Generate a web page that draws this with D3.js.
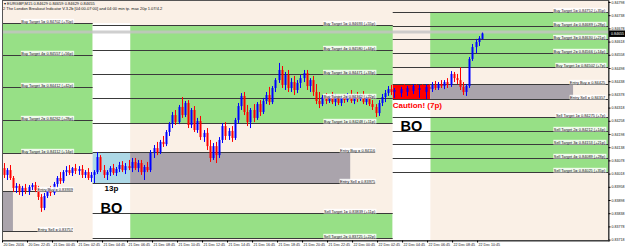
<!DOCTYPE html>
<html>
<head>
<meta charset="utf-8">
<script src="https://cdn.jsdelivr.net/npm/d3@7"></script>
<style>
  body { margin: 0; background: #fff; }
  svg { display: block; }
  text { font-family: "Liberation Sans", Arial, sans-serif; }
</style>
</head>
<body>
<svg id="chart" width="625" height="249"></svg>
<script>
// EURGBP M15, first bar = 20 Dec 20:45, values in points (1e-5)
// [open, high, low, close]
const candles = [
  [84043,84066,83998,84012],[84012,84043,83989,84034],[84034,84057,83989,83998],[83998,84007,83934,83953],
  [83953,83975,83930,83962],[83962,83971,83921,83934],[83934,83962,83916,83953],[83953,83971,83925,83939],
  [83939,83966,83921,83957],[83957,83975,83943,83966],[83966,83980,83934,83943],[83943,83962,83898,83912],
  [83912,83925,83844,83862],[83862,83930,83852,83916],[83916,83953,83907,83943],[83943,83962,83916,83930],
  [83930,83980,83921,83971],[83971,84007,83953,83998],[83998,84025,83971,83984],[83984,84034,83975,84025],
  [84025,84052,84007,84034],[84034,84057,84012,84021],[84021,84048,84007,84043],[84043,84062,84016,84030],
  [84030,84052,84012,84039],[84039,84057,83998,84012],[84012,84034,83998,84025],[84025,84043,83989,83998],
  [83998,84025,83980,84012],
  // 21 Dec 04:00 range
  [84012,84034,83975,84025],[84025,84116,84016,84093],[84093,84102,84025,84034],[84034,84057,83998,84012],
  [84012,84034,83989,84025],[84025,84052,84007,84043],[84043,84062,84012,84021],[84021,84048,84007,84039],
  [84039,84071,84025,84057],[84057,84075,84025,84034],[84034,84066,84016,84052],[84052,84080,84034,84043],
  // 07:00
  [84043,84089,84025,84071],[84071,84089,84034,84043],[84043,84080,84025,84066],[84066,84080,84012,84025],
  [84025,84057,83989,84048],[84048,84071,84025,84034],[84034,84125,84025,84112],[84112,84148,84089,84134],
  [84134,84162,84102,84116],[84116,84171,84107,84162],[84162,84189,84139,84152],[84152,84216,84143,84207],
  [84207,84252,84189,84243],[84243,84298,84225,84284],[84284,84307,84239,84252],[84252,84330,84243,84321],
  [84321,84366,84271,84284],[84284,84348,84275,84339],[84339,84352,84225,84239],[84239,84316,84225,84307],
  [84307,84325,84207,84216],[84216,84271,84203,84257],[84257,84280,84171,84184],[84184,84216,84162,84203],
  [84203,84225,84125,84143],[84143,84171,84071,84089],[84089,84157,84080,84143],[84143,84162,84066,84102],
  [84102,84184,84089,84171],[84171,84248,84157,84234],[84234,84252,84171,84189],[84189,84225,84171,84212],
  [84212,84234,84162,84180],[84180,84271,84171,84262],[84262,84339,84248,84325],[84325,84384,84307,84371],
  [84371,84389,84284,84298],[84298,84330,84234,84252],[84252,84316,84225,84307],[84307,84334,84252,84271],
  [84271,84343,84262,84334],[84334,84352,84280,84298],[84298,84362,84289,84348],[84348,84389,84334,84375],
  [84375,84412,84330,84343],[84343,84416,84334,84407],[84407,84452,84389,84443],[84443,84521,84430,84489],
  [84489,84507,84407,84421],[84421,84480,84398,84466],[84466,84489,84389,84407],[84407,84452,84389,84434],
  [84434,84462,84375,84398],[84398,84443,84384,84430],[84430,84466,84407,84452],[84452,84489,84434,84475],
  [84475,84489,84398,84416],[84416,84452,84389,84443],[84443,84462,84371,84389],[84389,84425,84334,84348],
  [84348,84389,84316,84334],[84334,84375,84325,84366],[84366,84384,84334,84348],[84348,84375,84339,84371],
  [84371,84389,84334,84343],[84343,84380,84325,84362],[84362,84375,84330,84339],[84339,84371,84325,84362],
  [84362,84380,84339,84352],[84352,84384,84343,84375],[84375,84398,84339,84348],[84348,84380,84334,84366],
  [84366,84389,84343,84357],[84357,84380,84348,84371],[84371,84393,84334,84343],[84343,84375,84330,84362],
  [84362,84380,84325,84334],[84334,84352,84307,84321],[84321,84334,84275,84293],[84293,84352,84280,84339],
  [84339,84380,84325,84366],[84366,84398,84343,84384],[84384,84416,84371,84402],[84402,84421,84375,84389],
  // 22 Dec 04:00 range
  [84389,84407,84362,84398],[84398,84416,84375,84384],[84384,84412,84366,84402],[84402,84425,84380,84389],
  [84389,84416,84371,84407],[84407,84421,84384,84393],[84393,84425,84380,84416],[84416,84425,84389,84398],
  [84398,84421,84362,84407],[84407,84425,84375,84389],[84389,84425,84357,84412],[84412,84425,84389,84402],
  // 07:00
  [84402,84434,84389,84421],[84421,84439,84398,84407],[84407,84434,84398,84425],[84425,84443,84407,84416],
  [84416,84443,84402,84434],[84434,84452,84407,84421],[84421,84484,84412,84471],[84471,84480,84434,84452],
  [84452,84471,84425,84443],[84443,84502,84398,84412],[84412,84434,84375,84389],[84389,84425,84371,84416],
  [84416,84548,84407,84539],[84539,84607,84530,84593],[84593,84630,84566,84616],[84616,84643,84598,84634],
  [84629,84659,84629,84655]
];

const timeLabels = ["20 Dec 2016","20 Dec 22:45","21 Dec 00:45","21 Dec 02:45","21 Dec 04:45",
  "21 Dec 06:45","21 Dec 08:45","21 Dec 10:45","21 Dec 12:45","21 Dec 14:45","21 Dec 16:45",
  "21 Dec 18:45","21 Dec 20:45","21 Dec 22:45","22 Dec 00:45","22 Dec 02:45","22 Dec 04:45",
  "22 Dec 06:45","22 Dec 08:45","22 Dec 10:45"];

const priceTicks = [0.84798,0.84738,0.84678,0.84618,0.84558,0.84498,0.84438,0.84378,0.84318,
  0.84258,0.84198,0.84138,0.84078,0.84018,0.83958,0.83898,0.83838,0.83778,0.83718];

// indicator levels per day (20 Dec, 21 Dec, 22 Dec), points; targets T1..T5
const buyTargets = [[84112,84262,84412,84557,84702],[84248,84362,84471,84580,84693],[84502,84566,84630,84689,84752]];
const buyPips = [[14,28,42,56,70],[11,22,33,44,55],[7,14,21,28,35]];
const sellTargets = [[],[83839,83725],[84275,84212,84153,84089,84025]];
const sellPips = [[],[11,22],[7,14,21,28,35]];
const entryBuy = [83939,84116,84425];
const entrySell = [83757,83975,84357];
const rangePips = [null,13,7];

// times as bar index
const rangeStart = [-67,29,125];
const rangeEnd = [-55,41,137];
const entryBoxEnd = [3.5,111.4,182.7];
const levelEnd = [29,125,195];
const labelAt = [22.7,119.4,193];

const lastBar = candles[candles.length - 1];

const plot = { left: 2, right: 609, top: 0, bottom: 241 };
const svg = d3.select("#chart");
const pt = v => v / 1e5;

const x = d3.scaleLinear().domain([0, 194.2]).range([plot.left, plot.right]);
const y = d3.scaleLinear().domain([0.837117, 0.84807]).range([plot.bottom, plot.top]);
const barW = x(1) - x(0);

const LINEN = "#faf0e6", GREEN = "#97e086", GREY = "#aaa4ac", LBLUE = "#add8e6";

svg.append("defs").append("clipPath").attr("id", "clip")
  .append("rect")
  .attr("x", plot.left).attr("y", plot.top)
  .attr("width", plot.right - plot.left).attr("height", plot.bottom - plot.top);

const g = svg.append("g").attr("clip-path", "url(#clip)");

g.append("rect")
  .attr("x", plot.left).attr("y", plot.top)
  .attr("width", plot.right - plot.left).attr("height", plot.bottom - plot.top)
  .attr("fill", LINEN);

// p0/p1: prices (< 1) or pixel rows
function box(x0, x1, p0, p1, fill) {
  const ya = p0 < 1 ? y(p0) : p0;
  const yb = p1 < 1 ? y(p1) : p1;
  g.append("rect")
    .attr("x", x(x0)).attr("width", Math.max(0, x(x1) - x(x0)))
    .attr("y", Math.min(ya, yb)).attr("height", Math.abs(yb - ya))
    .attr("fill", fill);
}

const days = d3.range(3);

// zones
days.forEach(d => {
  const bt = buyTargets[d], st = sellTargets[d];
  box(rangeEnd[d], levelEnd[d], pt(bt[0]), pt(bt[bt.length - 1]), GREEN);
  if (st.length) box(rangeEnd[d], levelEnd[d], pt(st[0]), pt(st[st.length - 1]), GREEN);
  if (d > 0) {
    // white column above the range reaches up to the previous day's top target on 21 Dec
    const whiteTop = d === 1 ? pt(buyTargets[0][4]) : 0.0001;
    box(rangeStart[d], rangeEnd[d], whiteTop < 0.5 ? plot.top : whiteTop, pt(entryBuy[d]), "#ffffff");
    box(rangeStart[d], rangeEnd[d], pt(entrySell[d]), plot.bottom, "#ffffff");
    box(rangeStart[d], rangeEnd[d], pt(entryBuy[d]), pt(entrySell[d]), d === 2 ? "#ff0000" : LBLUE);
  }
  box(rangeEnd[d], entryBoxEnd[d], pt(entryBuy[d]), pt(entrySell[d]), GREY);
});

// bid line
g.append("line")
  .attr("x1", plot.left).attr("x2", plot.right)
  .attr("y1", y(pt(lastBar[3])) - 1.5).attr("y2", y(pt(lastBar[3])) - 1.5)
  .attr("stroke", "#c4c4c4").attr("stroke-width", 3).attr("opacity", 0.8);

// level lines
days.forEach(d => {
  const levels = [...buyTargets[d], ...sellTargets[d]];
  levels.forEach(v => {
    g.append("line")
      .attr("x1", x(rangeStart[d])).attr("x2", x(levelEnd[d]))
      .attr("y1", Math.round(y(pt(v))) + 0.5).attr("y2", Math.round(y(pt(v))) + 0.5)
      .attr("stroke", "#3a3a3a").attr("stroke-width", 1);
  });
  [entryBuy[d], entrySell[d]].forEach(v => {
    g.append("line")
      .attr("x1", x(rangeStart[d])).attr("x2", x(d === 2 ? levelEnd[d] : labelAt[d]))
      .attr("y1", Math.round(y(pt(v))) + 0.5).attr("y2", Math.round(y(pt(v))) + 0.5)
      .attr("stroke", "#3a3a3a").attr("stroke-width", 1);
  });
});

// candles
const cg = g.append("g");
candles.forEach((c, i) => {
  const [o, h, l, cl] = c.map(pt);
  const col = cl >= o ? "#0000ff" : "#ff0000";
  const cx = Math.round(x(i) + barW / 2) + 0.5;
  cg.append("line")
    .attr("x1", cx).attr("x2", cx)
    .attr("y1", y(h)).attr("y2", y(l))
    .attr("stroke", col).attr("stroke-width", 1);
  const top = y(Math.max(o, cl)), bot = y(Math.min(o, cl));
  cg.append("rect")
    .attr("x", cx - 1).attr("width", 2)
    .attr("y", top).attr("height", Math.max(1, bot - top))
    .attr("fill", col);
});

// level labels
function levelLabel(d, v, txt) {
  const t = g.append("text")
    .attr("x", x(labelAt[d])).attr("y", Math.round(y(pt(v))) - 0.5)
    .attr("text-anchor", "end")
    .attr("font-size", 3.9).attr("fill", "#111")
    .text(txt);
  const b = t.node().getBBox();
  g.insert("rect", () => t.node())
    .attr("x", b.x - 0.5).attr("y", b.y + 0.3)
    .attr("width", b.width + 1).attr("height", b.height - 0.3)
    .attr("fill", "#ffffff").attr("opacity", 0.85);
}
const f5 = d3.format(".5f");
days.forEach(d => {
  buyTargets[d].forEach((v, k) =>
    levelLabel(d, v, `Buy Target ${k + 1}= ${f5(pt(v))} (+${buyPips[d][k]}p)`));
  levelLabel(d, entryBuy[d], `Entry Buy = ${f5(pt(entryBuy[d]))}`);
  levelLabel(d, entrySell[d], `Entry Sell = ${f5(pt(entrySell[d]))}`);
  sellTargets[d].forEach((v, k) =>
    levelLabel(d, v, `Sell Target ${k + 1}= ${f5(pt(v))} (+${sellPips[d][k]}p)`));
});

// breakout annotations
const mid1 = x((rangeStart[1] + rangeEnd[1]) / 2);
g.append("text").attr("x", mid1).attr("y", y(pt(entrySell[1])) + 7.5)
  .attr("text-anchor", "middle").attr("font-size", 8).attr("font-weight", "bold")
  .text(`${rangePips[1]}p`);
g.append("text").attr("x", mid1).attr("y", y(pt(entrySell[1])) + 30)
  .attr("text-anchor", "middle").attr("font-size", 14.5).attr("font-weight", "bold")
  .text("BO");
g.append("text").attr("x", x(rangeStart[2])).attr("y", y(pt(entrySell[2])) + 9)
  .attr("font-size", 8).attr("font-weight", "bold").attr("fill", "#ff0000")
  .text(`Caution! (${rangePips[2]}p)`);
g.append("text").attr("x", x((rangeStart[2] + rangeEnd[2]) / 2)).attr("y", y(pt(entrySell[2])) + 32)
  .attr("text-anchor", "middle").attr("font-size", 14.5).attr("font-weight", "bold")
  .text("BO");

// header
g.append("text").attr("x", 4).attr("y", 5).attr("font-size", 4).attr("fill", "#111")
  .text(`▾ EURGBP,M15  ${lastBar.map(v => f5(pt(v))).join(" ")}`);
g.append("text").attr("x", 3).attr("y", 10).attr("font-size", 4).attr("fill", "#111")
  .text("2 The London Breakout Indicator V.3.2b [04:00-07:00] and 04:00 min tp. max 20p 1.07/4.2");

// frame
svg.append("rect")
  .attr("x", plot.left + 0.5).attr("y", plot.top + 0.5)
  .attr("width", plot.right - plot.left - 1).attr("height", plot.bottom - plot.top - 1)
  .attr("fill", "none").attr("stroke", "#555");

// axes
const yAxis = svg.append("g")
  .attr("transform", `translate(${plot.right - 0.5},0)`)
  .call(d3.axisRight(y).tickValues(priceTicks).tickFormat(f5).tickSize(2).tickSizeOuter(0));
yAxis.select(".domain").attr("stroke", "#333");
yAxis.selectAll("text").attr("font-size", 3.6).attr("font-family", "Liberation Sans, Arial").attr("x", 3).attr("fill", "#111");

const xAxis = svg.append("g")
  .attr("transform", `translate(0,${plot.bottom - 0.5})`)
  .call(d3.axisBottom(x).tickValues(d3.range(0, 153, 8)).tickFormat((d, i) => timeLabels[i]).tickSize(2).tickSizeOuter(0));
xAxis.select(".domain").attr("stroke", "#333");
xAxis.selectAll("text").attr("font-size", 3.6).attr("font-family", "Liberation Sans, Arial")
  .attr("text-anchor", "start").attr("x", 1).attr("y", 3).attr("fill", "#111");

// current price marker
const yc = y(pt(lastBar[3]));
svg.append("rect").attr("x", plot.right).attr("y", yc - 3).attr("width", 16).attr("height", 6.5).attr("fill", "#000");
svg.append("text").attr("x", plot.right + 2).attr("y", yc + 1.4)
  .attr("font-size", 3.6).attr("fill", "#fff").text(f5(pt(lastBar[3])));
</script>
</body>
</html>
